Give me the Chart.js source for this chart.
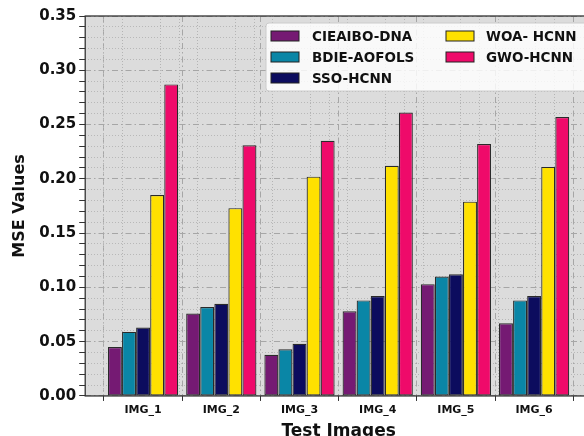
<!DOCTYPE html>
<html>
<head>
<meta charset="utf-8">
<script src="https://cdn.jsdelivr.net/npm/chart.js@4/dist/chart.umd.min.js"></script>
<style>
  html, body { margin: 0; padding: 0; background: #fff; overflow: hidden; }
  #wrap { width: 600px; height: 441px; }
</style>
</head>
<body>
<div id="wrap"><canvas id="barChart"></canvas></div>
<script>
// categories and series
const categories = ["IMG_1", "IMG_2", "IMG_3", "IMG_4", "IMG_5", "IMG_6"];
const seriesNames = ["CIEAIBO-DNA", "BDIE-AOFOLS", "SSO-HCNN", "WOA- HCNN", "GWO-HCNN"];
const cieaibo = [0.045, 0.076, 0.038, 0.078, 0.103, 0.067];
const bdie    = [0.059, 0.082, 0.043, 0.088, 0.110, 0.088];
const sso     = [0.063, 0.085, 0.048, 0.092, 0.112, 0.092];
const woa     = [0.185, 0.173, 0.202, 0.212, 0.179, 0.211];
const gwo     = [0.287, 0.231, 0.235, 0.261, 0.232, 0.257];
const yTicks  = [0.00, 0.05, 0.10, 0.15, 0.20, 0.25, 0.30, 0.35];

const colors = ["#751a73", "#0a86a6", "#0c0c5e", "#ffe100", "#ef0a6a"];
const allSeries = [cieaibo, bdie, sso, woa, gwo];

const FONT = "'DejaVu Sans', sans-serif";

function isMajorY(v) {
  return yTicks.some(t => Math.abs(t - v) < 1e-6);
}
function isInt(v) {
  return Math.abs(v - Math.round(v)) < 1e-6;
}

// plot background, frame and legend box
const framePlugin = {
  id: 'frame',
  beforeDraw(chart) {
    const a = chart.chartArea, c = chart.ctx;
    c.save();
    c.fillStyle = '#dcdcdc';
    c.fillRect(a.left, a.top, a.right - a.left, a.bottom - a.top);
    c.restore();
  },
  afterDraw(chart) {
    const a = chart.chartArea, c = chart.ctx;
    c.save();
    c.strokeStyle = '#333';
    c.lineWidth = 1.3;
    c.strokeRect(a.left, a.top, a.right - a.left, a.bottom - a.top);

    // legend, two columns
    const bx = 266, by = 23, bw = 332, bh = 68;
    c.fillStyle = 'rgba(255,255,255,0.82)';
    c.strokeStyle = '#cccccc';
    c.lineWidth = 1;
    c.beginPath();
    c.roundRect(bx, by, bw, bh, 3);
    c.fill();
    c.stroke();

    c.font = "bold 13.5px " + FONT;
    c.textBaseline = 'middle';
    chart.data.datasets.forEach((ds, i) => {
      const col = i < 3 ? 0 : 1;
      const row = i < 3 ? i : i - 3;
      const sx = col === 0 ? 271 : 446;
      const tx = col === 0 ? 312 : 486;
      const cy = 36 + row * 21;
      c.fillStyle = ds.backgroundColor;
      c.fillRect(sx, cy - 5, 28, 10);
      c.strokeStyle = '#222';
      c.lineWidth = 1;
      c.strokeRect(sx, cy - 5, 28, 10);
      c.fillStyle = '#111';
      c.fillText(ds.label, tx, cy + 1);
    });
    c.restore();
  }
};

const datasets = seriesNames.map((name, i) => ({
  label: name,
  data: allSeries[i].map((v, j) => ({ x: j, y: v })),
  backgroundColor: colors[i],
  borderColor: '#2a2a2a',
  borderWidth: 1.2,
  borderSkipped: false,
  categoryPercentage: 0.9,
  barPercentage: 0.99,
  xAxisID: 'x',
  yAxisID: 'y'
}));

new Chart(document.getElementById('barChart'), {
  type: 'bar',
  data: { datasets: datasets },
  plugins: [framePlugin],
  options: {
    responsive: true,
    maintainAspectRatio: false,
    animation: false,
    layout: { padding: { left: 9, right: 8, top: 16, bottom: 0 } },
    plugins: {
      legend: { display: false },
      tooltip: { enabled: false }
    },
    scales: {
      x: {
        type: 'linear',
        min: -0.74,
        max: 5.74,
        offset: false,
        ticks: {
          stepSize: 1,
          includeBounds: false,
          autoSkip: false,
          maxRotation: 0,
          padding: 3,
          color: '#111',
          font: { family: FONT, size: 11, weight: 'bold' },
          callback: v => isInt(v) ? (categories[Math.round(v)] || '') : ''
        },
        grid: {
          color: '#a6a6a6',
          lineWidth: 1,
          tickLength: 5,
          tickColor: '#333'
        },
        border: { display: false, dash: [6, 3, 1.5, 3] },
        title: {
          display: true,
          text: 'Test Images',
          color: '#111',
          font: { family: FONT, size: 17, weight: 'bold', lineHeight: 1.05 },
          padding: { top: 3, bottom: 0 }
        }
      },
      x2: {
        type: 'linear',
        position: 'top',
        min: -0.74,
        max: 5.74,
        ticks: { display: false, stepSize: 0.25, includeBounds: false, autoSkip: false },
        grid: {
          drawTicks: false,
          color: ctx => (ctx.tick && !isInt(ctx.tick.value)) ? '#b4b4b4' : 'rgba(0,0,0,0)',
          lineWidth: 1
        },
        border: { display: false, dash: [1, 2] }
      },
      y: {
        min: 0,
        max: 0.35,
        ticks: {
          stepSize: 0.01,
          autoSkip: false,
          padding: 3,
          color: '#111',
          font: { family: FONT, size: 15, weight: 'bold' },
          callback: v => isMajorY(v) ? v.toFixed(2) : ''
        },
        grid: {
          color: ctx => (ctx.tick && isMajorY(ctx.tick.value)) ? '#a6a6a6' : '#b8b8b8',
          lineWidth: 1,
          tickLength: 6,
          tickColor: '#333'
        },
        border: {
          display: false,
          dash: ctx => (ctx.tick && isMajorY(ctx.tick.value)) ? [6, 3, 1.5, 3] : [1, 2]
        },
        title: {
          display: true,
          text: 'MSE Values',
          color: '#111',
          font: { family: FONT, size: 16, weight: 'bold' },
          padding: { top: 1, bottom: 7 }
        }
      }
    }
  }
});
</script>
</body>
</html>
